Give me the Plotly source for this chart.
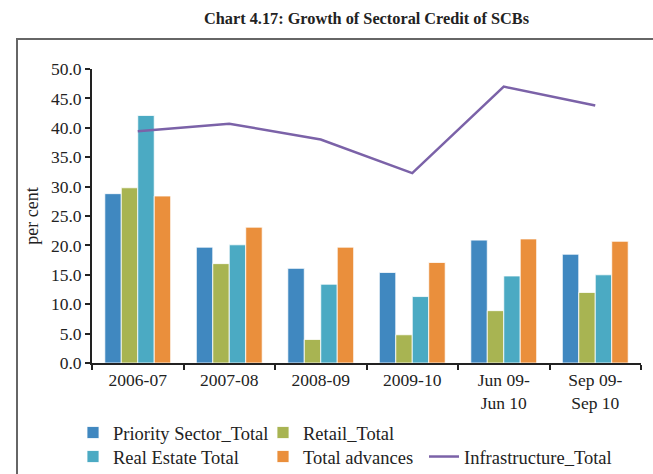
import plotly.graph_objects as go

categories = ["2006-07", "2007-08", "2008-09", "2009-10", "Jun 09-<br>Jun 10", "Sep 09-<br>Sep 10"]
priority_sector = [28.8, 19.7, 16.1, 15.4, 20.9, 18.5]
retail = [29.8, 16.9, 4.0, 4.8, 8.9, 12.0]
real_estate = [42.1, 20.1, 13.4, 11.3, 14.8, 15.0]
total_advances = [28.4, 23.1, 19.7, 17.1, 21.1, 20.7]
infrastructure = [39.4, 40.7, 38.0, 32.3, 47.0, 43.8]
y_ticks = [0, 5, 10, 15, 20, 25, 30, 35, 40, 45, 50]

FONT = "Liberation Serif"
FS_TICK = 17.5
FS_LEG = 18.5
W, H = 653, 474
L, R, T, B = 92, 12, 69, 111
pw, ph = W - L - R, H - T - B

def px_x(x):
    return (x - L) / pw

def px_y(y):
    return (H - B - y) / ph

fig = go.Figure()
bar_line = dict(color="rgba(255,255,255,0.8)", width=1)
fig.add_bar(x=categories, y=priority_sector, name="Priority Sector_Total",
            marker=dict(color="#4088C0", line=bar_line), legend="legend")
fig.add_bar(x=categories, y=retail, name="Retail_Total",
            marker=dict(color="#A8B452", line=bar_line), legend="legend2")
fig.add_bar(x=categories, y=real_estate, name="Real Estate Total",
            marker=dict(color="#4BAAC3", line=bar_line), legend="legend3")
fig.add_bar(x=categories, y=total_advances, name="Total advances",
            marker=dict(color="#EA8F3C", line=bar_line), legend="legend4")
fig.add_scatter(x=categories, y=infrastructure, name="Infrastructure_Total",
                mode="lines", line=dict(color="#7B62A8", width=2.5), legend="legend5")
for tr in fig.data:
    tr.showlegend = True

def leg(xpx, ypx):
    return dict(orientation="v", font=dict(family=FONT, size=FS_LEG, color="#222"),
                bgcolor="rgba(0,0,0,0)", xanchor="left", yanchor="middle",
                itemwidth=30, x=px_x(xpx), y=px_y(ypx))

fig.update_layout(
    width=W, height=H,
    showlegend=True,
    margin=dict(l=L, r=R, t=T, b=B, autoexpand=False),
    paper_bgcolor="white", plot_bgcolor="white",
    barmode="group", bargap=0.28, bargroupgap=0,
    font=dict(family=FONT, size=FS_TICK, color="#222"),
    title=dict(text="<b>Chart 4.17: Growth of Sectoral Credit of SCBs</b>",
               x=0.5, xref="paper", xanchor="center", y=1 - 18 / H, yanchor="middle",
               font=dict(family=FONT, size=16.3, color="#222")),
    xaxis=dict(type="category", showline=True, linecolor="#222", linewidth=2,
               ticks="outside", tickson="boundaries", ticklen=5, tickwidth=1.5,
               tickcolor="#222", showgrid=False, tickfont=dict(size=FS_TICK)),
    yaxis=dict(range=[0, 50], tickvals=y_ticks, tickformat=".1f", showline=True,
               linecolor="#222", linewidth=2, ticks="outside", ticklen=5,
               tickwidth=1.5, tickcolor="#222", showgrid=False, zeroline=False,
               tickfont=dict(size=FS_TICK),
               title=dict(text="per cent", font=dict(size=18), standoff=8)),
    legend=leg(73, 433),
    legend2=leg(263, 433),
    legend3=leg(73, 457),
    legend4=leg(263, 457),
    legend5=leg(424, 457),
    shapes=[
        dict(type="line", xref="paper", yref="paper", x0=px_x(17), x1=px_x(17),
             y0=px_y(H + 5), y1=px_y(39), line=dict(color="#666", width=2)),
        dict(type="line", xref="paper", yref="paper", x0=px_x(16), x1=px_x(W + 5),
             y0=px_y(39), y1=px_y(39), line=dict(color="#666", width=2)),
    ],
)

fig.write_html("out.html")
